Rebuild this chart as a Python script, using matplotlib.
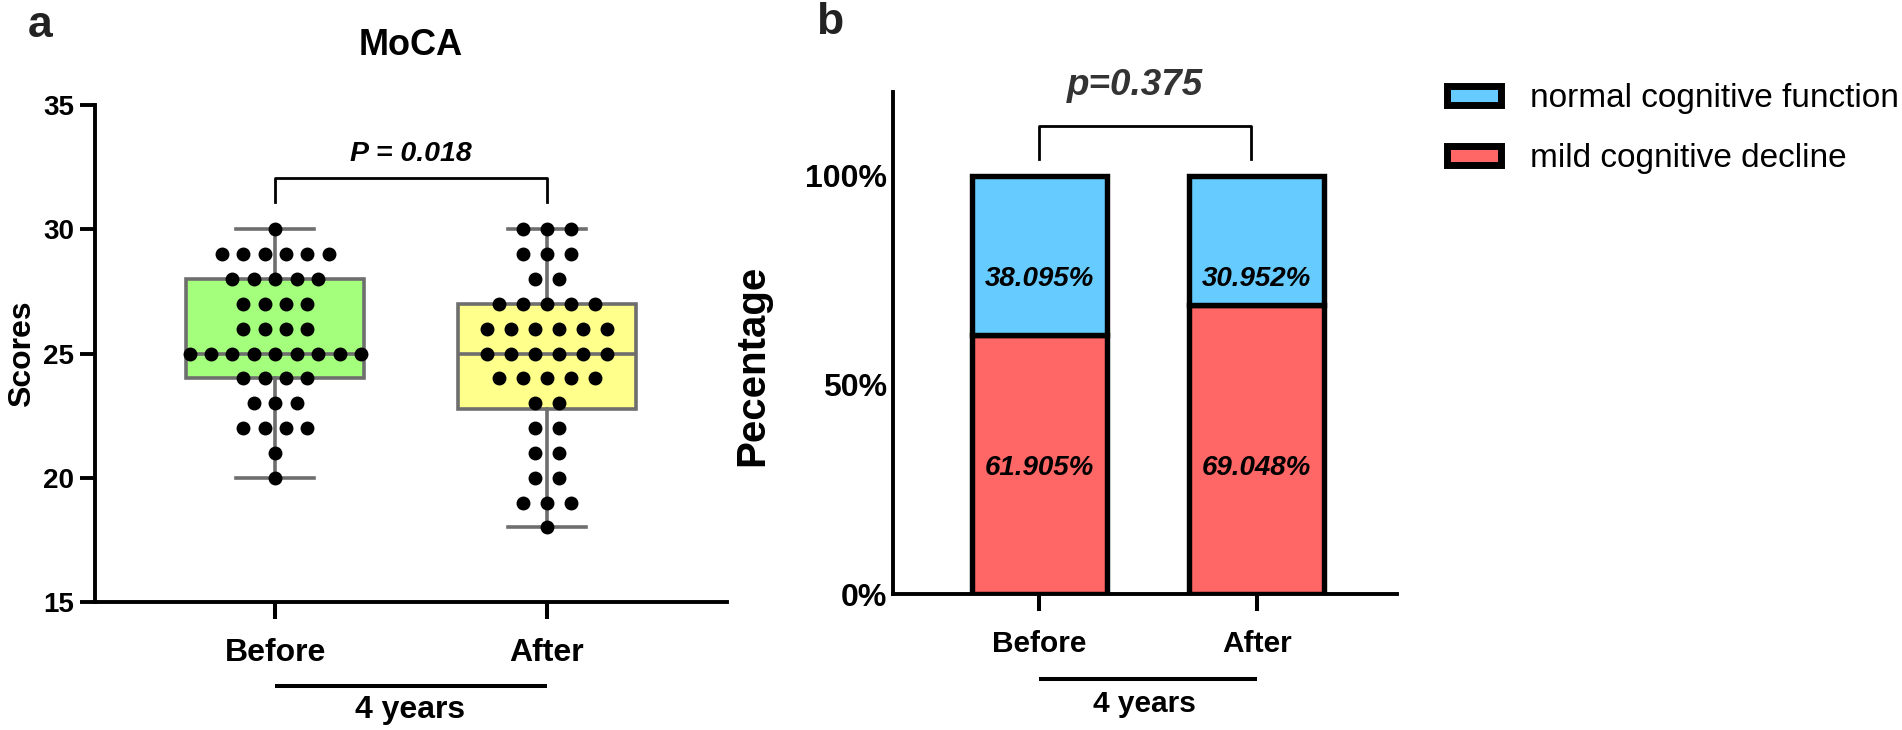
import numpy as np
import matplotlib
matplotlib.use("Agg")
import matplotlib.pyplot as plt
from matplotlib.patches import Patch

plt.rcParams['font.family'] = ['Liberation Sans', 'DejaVu Sans']
plt.rcParams['font.weight'] = 'bold'

# Panel a: MoCA scores, counts of patients at each score
score_levels = np.arange(18, 31)
before_counts = [0, 0, 1, 1, 4, 3, 4, 9, 4, 4, 5, 6, 1]
after_counts = [1, 3, 2, 2, 2, 2, 5, 6, 6, 5, 2, 3, 3]
groups = ['Before', 'After']
p_moca = 'P = 0.018'

# Panel b: percentage of each cognitive category
normal_pct = [38.095, 30.952]
mild_pct = [61.905, 69.048]
p_pct = 'p=0.375'

box_colors = ['#a3ff7c', '#ffff8c']
box_edge = '#6e6e6e'
blue = '#66ccff'
red = '#ff6666'

fig = plt.figure(figsize=(19.02, 7.30), dpi=100)

# ---------------- panel a ----------------
ax = fig.add_axes([0.04995, 0.1753, 0.3323, 0.6808])
pos = [0, 1]
stats = []
for counts, label in zip([before_counts, after_counts], groups):
    vals = np.repeat(score_levels, counts)
    q1, med, q3 = np.percentile(vals, [25, 50, 75], method='weibull')
    stats.append(dict(med=med, q1=q1, q3=q3, whislo=vals.min(), whishi=vals.max(),
                      fliers=[], label=label))

bp = ax.bxp(stats, positions=pos, widths=0.656, capwidths=0.287, patch_artist=True,
            showfliers=False,
            boxprops=dict(edgecolor=box_edge, linewidth=2.6),
            medianprops=dict(color=box_edge, linewidth=2.6),
            whiskerprops=dict(color=box_edge, linewidth=2.6),
            capprops=dict(color=box_edge, linewidth=2.6))
for patch, c in zip(bp['boxes'], box_colors):
    patch.set_facecolor(c)

# scatter of individual scores, rows centred on each box
spacing = [0.0789, 0.088]
for p, counts, sp in zip(pos, [before_counts, after_counts], spacing):
    for level, n in zip(score_levels, counts):
        if n == 0:
            continue
        xs = p + (np.arange(n) - (n - 1) / 2) * sp
        ax.plot(xs, np.full(n, level), 'o', color='black', ms=9, zorder=5, clip_on=False)

ax.set_xlim(-0.664, 1.663)
ax.set_ylim(15, 35)
ax.set_yticks([15, 20, 25, 30, 35])
ax.set_xticks(pos)
ax.set_xticklabels(groups)
for s in ['top', 'right']:
    ax.spines[s].set_visible(False)
for s in ['left', 'bottom']:
    ax.spines[s].set_linewidth(2.8)
ax.tick_params(axis='y', length=10.8, width=2.8, pad=4, labelsize=20)
ax.tick_params(axis='x', length=12.2, width=2.9, pad=14, labelsize=23)
ax.set_ylabel('Scores', fontsize=23, fontweight='bold')
ax.yaxis.set_label_coords(-0.092, 0.5)

# significance bracket
ax.plot([0, 0, 1, 1], [31.08, 32.07, 32.07, 31.08], color='black', lw=2, clip_on=False)
ax.text(0.5, 32.76, p_moca, ha='center', va='baseline', fontsize=20.5,
        fontweight='bold', fontstyle='italic')
ax.text(0.5, 1.12, 'MoCA', transform=ax.get_xaxis_transform(), ha='center', va='center',
        fontsize=26, fontweight='bold')

tr = ax.get_xaxis_transform()
ax.plot([0, 1], [-0.169, -0.169], transform=tr, color='black', lw=2.9, clip_on=False,
        solid_capstyle='butt')
ax.text(0.495, -0.2334, '4 years', transform=tr, ha='center', va='baseline', fontsize=23)

# ---------------- panel b ----------------
bx = fig.add_axes([0.4695, 0.1863, 0.265, 0.6877])
xb = np.arange(len(groups))
bx.bar(xb, mild_pct, width=0.62, color=red, edgecolor='black', linewidth=3.9,
       joinstyle='miter', zorder=2)
bx.bar(xb, normal_pct, bottom=mild_pct, width=0.62, color=blue, edgecolor='black',
       linewidth=3.9, joinstyle='miter', zorder=2)
for i in xb:
    bx.text(i, 73.7, f'{normal_pct[i]:.3f}%', ha='center', va='baseline', fontsize=20,
            fontweight='bold', fontstyle='italic', zorder=3)
    bx.text(i, 28.5, f'{mild_pct[i]:.3f}%', ha='center', va='baseline', fontsize=20,
            fontweight='bold', fontstyle='italic', zorder=3)

bx.set_xlim(-0.673, 1.645)
bx.set_ylim(0, 120)
bx.set_yticks([0, 50, 100])
bx.set_yticklabels(['0%', '50%', '100%'])
bx.set_xticks(xb)
bx.set_xticklabels(groups)
for s in ['top', 'right']:
    bx.spines[s].set_visible(False)
for s in ['left', 'bottom']:
    bx.spines[s].set_linewidth(2.8)
bx.tick_params(axis='y', length=0, pad=4, labelsize=23)
bx.tick_params(axis='x', length=12.2, width=2.9, pad=14, labelsize=21.5)
bx.set_ylabel('Pecentage', fontsize=29, fontweight='bold')
bx.yaxis.set_label_coords(-0.242, 0.455)

bx.plot([0, 0, 0.975, 0.975], [103.9, 111.9, 111.9, 103.9], color='black', lw=2,
        clip_on=False)
bx.text(0.44, 119.3, p_pct, ha='center', va='baseline', fontsize=26.5, color='#333333',
        fontweight='bold', fontstyle='italic', clip_on=False)

trb = bx.get_xaxis_transform()
bx.plot([0, 1], [-0.169, -0.169], transform=trb, color='black', lw=2.9, clip_on=False,
        solid_capstyle='butt')
bx.text(0.485, -0.235, '4 years', transform=trb, ha='center', va='baseline', fontsize=21.5)

# legend
handles = [Patch(facecolor=blue, edgecolor='black', linewidth=5),
           Patch(facecolor=red, edgecolor='black', linewidth=5)]
fig.legend(handles, ['normal cognitive function', 'mild cognitive decline'],
           loc='upper left', bbox_to_anchor=(1446.5 / 1902, 0.886), frameon=False,
           prop=dict(size=24, weight='normal'), handlelength=1.62, handleheight=0.486,
           handletextpad=0.886, labelspacing=0.87, borderpad=0, borderaxespad=0)

# panel letters
fig.text(40 / 1902, 1 - 25.6 / 730, 'a', ha='center', va='center', fontsize=32,
         fontweight='bold', color='#222222')
fig.text(830 / 1902, 1 - 23 / 730, 'b', ha='center', va='center', fontsize=32,
         fontweight='bold', color='#222222')

fig.savefig('out.png', dpi=100)
